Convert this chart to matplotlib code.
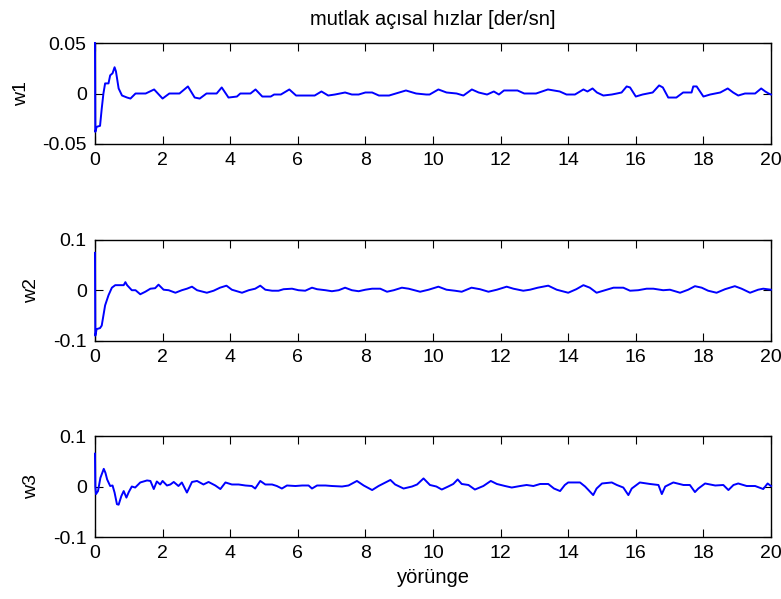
import numpy as np
import matplotlib.pyplot as plt

plt.rcParams['font.family'] = ['Liberation Sans', 'DejaVu Sans']

# w1 - noktalar (zaman, deger)
t1 = [0, 0.01, 0.05, 0.15, 0.2, 0.25, 0.3, 0.4, 0.45, 0.52, 0.58, 0.62, 0.7, 0.8,
      0.95, 1.05, 1.2, 1.5, 1.75, 2.0, 2.2, 2.5, 2.75, 2.95, 3.1, 3.3, 3.6, 3.75,
      3.95, 4.2, 4.3, 4.6, 4.75, 4.95, 5.2, 5.3, 5.5, 5.75, 5.95, 6.5, 6.7, 6.9,
      7.1, 7.4, 7.6, 7.8, 8.0, 8.2, 8.4, 8.7, 9.2, 9.5, 9.8, 9.9, 10.16, 10.4,
      10.7, 10.9, 11.15, 11.35, 11.6, 11.8, 11.95, 12.1, 12.5, 12.7, 13.05, 13.4,
      13.75, 13.95, 14.2, 14.45, 14.57, 14.72, 14.85, 15.04, 15.29, 15.44, 15.58,
      15.73, 15.83, 16.0, 16.2, 16.5, 16.69, 16.8, 16.96, 17.2, 17.4, 17.65, 17.7,
      17.8, 18.0, 18.2, 18.5, 18.72, 18.88, 19.03, 19.23, 19.53, 19.71, 19.83,
      19.93, 20.0]
w1 = [0.05, -0.038, -0.033, -0.032, -0.015, 0.0, 0.01, 0.01, 0.018, 0.02, 0.026,
      0.022, 0.005, -0.002, -0.004, -0.005, 0.0, 0.0, 0.004, -0.005, 0.0, 0.0,
      0.007, -0.004, -0.005, 0.0, 0.0, 0.006, -0.004, -0.003, 0.0, 0.0, 0.004,
      -0.003, -0.003, -0.001, -0.001, 0.004, -0.002, -0.002, 0.002, -0.002,
      -0.001, 0.001, -0.001, -0.001, 0.001, 0.001, -0.002, -0.002, 0.003, 0.0,
      -0.001, -0.001, 0.004, 0.001, 0.0, -0.002, 0.004, 0.001, -0.001, 0.002,
      -0.001, 0.003, 0.003, 0.0, 0.0, 0.004, 0.002, -0.001, -0.001, 0.004,
      0.002, 0.005, 0.001, -0.002, -0.001, 0.0, 0.001, 0.007, 0.006, -0.003,
      -0.001, 0.001, 0.008, 0.006, -0.004, -0.004, 0.001, 0.001, 0.007, 0.007,
      -0.003, -0.001, 0.001, 0.005, 0.001, -0.002, 0.0, 0.0, 0.005, 0.002,
      0.0, -0.001]

# w2
t2 = [0, 0.01, 0.05, 0.15, 0.2, 0.25, 0.3, 0.4, 0.5, 0.6, 0.85, 0.9, 0.95, 1.09,
      1.2, 1.34, 1.49, 1.64, 1.78, 1.88, 2.03, 2.18, 2.38, 2.57, 2.72, 2.87,
      3.02, 3.31, 3.51, 3.7, 3.89, 4.05, 4.35, 4.55, 4.74, 4.89, 5.04, 5.24,
      5.43, 5.58, 5.83, 6.02, 6.22, 6.42, 6.57, 6.82, 7.01, 7.21, 7.4, 7.6, 7.8,
      8.0, 8.2, 8.44, 8.64, 8.84, 9.08, 9.28, 9.62, 9.87, 10.16, 10.4, 10.65,
      10.85, 11.14, 11.39, 11.64, 11.89, 12.18, 12.38, 12.67, 12.87, 13.1,
      13.41, 13.66, 14.0, 14.24, 14.45, 14.64, 14.84, 15.04, 15.34, 15.63,
      15.83, 16.07, 16.32, 16.52, 16.81, 17.01, 17.31, 17.55, 17.75, 17.95,
      18.14, 18.39, 18.64, 18.93, 19.13, 19.38, 19.62, 19.77, 20.0]
w2 = [0.074, -0.09, -0.077, -0.075, -0.07, -0.05, -0.03, -0.01, 0.005, 0.01, 0.01,
      0.016, 0.01, 0.0, 0.0, -0.008, -0.003, 0.003, 0.004, 0.011, 0.001, 0.0,
      -0.005, 0.0, 0.003, 0.007, 0.0, -0.005, -0.001, 0.005, 0.009, 0.001,
      -0.005, 0.0, 0.003, 0.009, 0.001, -0.001, -0.001, 0.002, 0.003, 0.0,
      -0.001, 0.005, 0.002, 0.0, -0.002, 0.0, 0.005, 0.0, -0.002, 0.001, 0.003,
      0.003, -0.003, 0.0, 0.005, 0.003, -0.003, 0.001, 0.007, 0.001, -0.001,
      -0.003, 0.005, 0.002, -0.003, 0.001, 0.007, 0.003, -0.001, 0.001, 0.005,
      0.009, 0.001, -0.005, 0.002, 0.01, 0.005, -0.005, -0.001, 0.005, 0.005,
      -0.001, 0.0, 0.003, 0.003, 0.0, 0.001, -0.005, 0.001, 0.008, 0.005,
      -0.001, -0.005, 0.002, 0.008, 0.003, -0.005, 0.001, 0.003, 0.001]

# w3
t3 = [0, 0.01, 0.03, 0.09, 0.16, 0.26, 0.31, 0.36, 0.45, 0.52, 0.58, 0.65, 0.7,
      0.78, 0.85, 0.93, 1.0, 1.09, 1.19, 1.34, 1.54, 1.64, 1.74, 1.83, 1.93,
      2.0, 2.13, 2.23, 2.33, 2.47, 2.57, 2.72, 2.87, 3.02, 3.21, 3.36, 3.56,
      3.71, 3.86, 4.05, 4.25, 4.45, 4.64, 4.74, 4.89, 5.04, 5.24, 5.38, 5.53,
      5.68, 5.93, 6.13, 6.32, 6.42, 6.57, 6.82, 7.01, 7.31, 7.5, 7.75, 7.95,
      8.2, 8.39, 8.74, 8.88, 9.13, 9.38, 9.53, 9.72, 9.91, 10.1, 10.26, 10.45,
      10.6, 10.73, 10.85, 11.05, 11.24, 11.49, 11.71, 11.89, 12.13, 12.33,
      12.58, 12.77, 12.97, 13.17, 13.41, 13.58, 13.76, 13.9, 14.0, 14.35,
      14.5, 14.6, 14.74, 14.84, 15.0, 15.29, 15.44, 15.63, 15.78, 15.88, 16.12,
      16.42, 16.67, 16.77, 16.87, 17.11, 17.41, 17.6, 17.75, 17.85, 18.05,
      18.35, 18.59, 18.74, 18.89, 19.03, 19.28, 19.53, 19.77, 19.9, 20.0]
w3 = [0.065, 0.0, -0.015, -0.009, 0.017, 0.035, 0.027, 0.014, 0.001, 0.002,
      -0.012, -0.035, -0.036, -0.019, -0.009, -0.022, -0.011, 0.0, -0.002,
      0.008, 0.012, 0.011, -0.005, 0.01, 0.004, 0.011, 0.002, 0.004, 0.009,
      0.001, 0.008, -0.012, 0.009, 0.011, 0.004, 0.009, 0.002, -0.005, 0.008,
      0.004, 0.004, 0.002, 0.001, -0.004, 0.011, 0.004, 0.004, 0.001, -0.004,
      0.002, 0.001, 0.002, 0.002, -0.004, 0.002, 0.002, 0.001, 0.0, 0.002,
      0.011, 0.002, -0.007, 0.001, 0.013, 0.004, -0.004, 0.0, 0.004, 0.016,
      0.003, 0.0, -0.006, 0.0, 0.005, 0.014, 0.005, 0.003, -0.006, 0.001, 0.011,
      0.005, 0.001, -0.002, 0.001, 0.003, 0.001, 0.005, 0.005, -0.004, -0.009,
      0.003, 0.008, 0.008, 0.0, -0.007, -0.017, -0.004, 0.006, 0.008, 0.003,
      -0.002, -0.017, -0.004, 0.008, 0.005, 0.003, -0.015, 0.0, 0.008, 0.003,
      0.003, -0.011, -0.004, 0.006, 0.002, 0.003, -0.007, 0.003, 0.006, 0.001,
      0.001, -0.005, 0.006, 0.001]

ylims = [(-0.05, 0.05), (-0.1, 0.1), (-0.1, 0.1)]
yticks = [[-0.05, 0, 0.05], [-0.1, 0, 0.1], [-0.1, 0, 0.1]]
ylabels = ['w1', 'w2', 'w3']
xticks = list(range(0, 21, 2))

fig = plt.figure(figsize=(7.81, 5.99), dpi=100)
bottoms = [0.7596, 0.4312, 0.1035]
data = [(t1, w1), (t2, w2), (t3, w3)]

axes = []
for i in range(3):
    ax = fig.add_axes([0.1216, bottoms[i], 0.8656, 0.1686])
    t, w = data[i]
    ax.plot(t, w, color='#0000ff', linewidth=1.4, zorder=3, clip_on=False)
    ax.set_xlim(0, 20)
    ax.set_ylim(*ylims[i])
    ax.set_xticks(xticks)
    ax.set_yticks(yticks[i])
    ax.set_yticklabels(['%g' % v for v in yticks[i]])
    ax.set_ylabel(ylabels[i], fontsize=14, labelpad=9)
    ax.tick_params(direction='in', top=True, right=True, length=6,
                   labelsize=14, pad=6)
    for s in ax.spines.values():
        s.set_linewidth(1.0)
    axes.append(ax)

axes[0].set_title('mutlak açısal hızlar [der/sn]', fontsize=14.5, pad=13)
axes[2].set_xlabel('yörünge', fontsize=14.5, labelpad=4)

fig.savefig('out.png', dpi=100)
